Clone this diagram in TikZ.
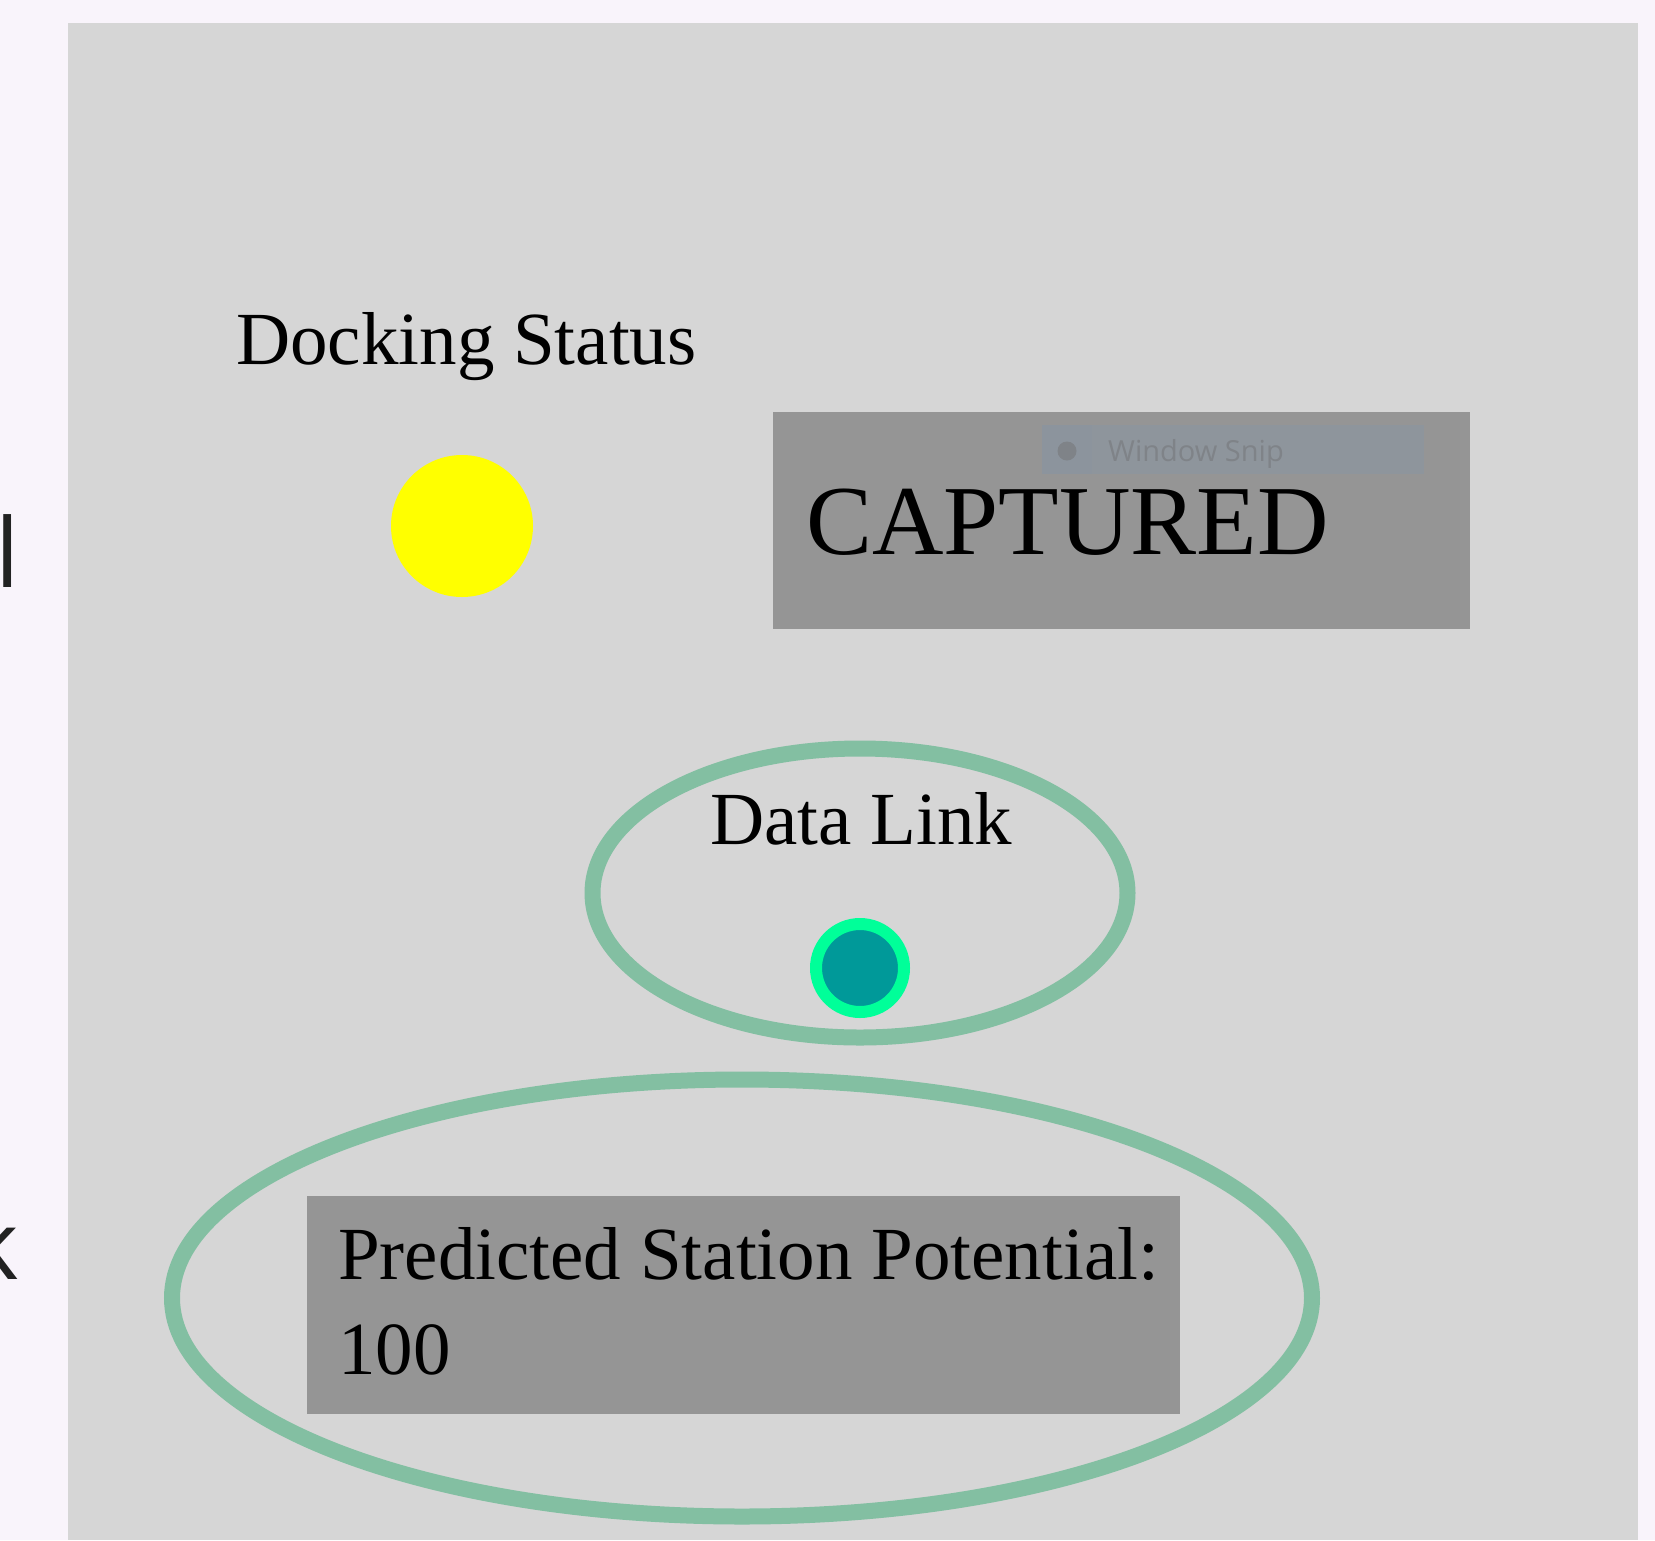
\documentclass[tikz,border=0pt]{standalone}
\usepackage{fontspec}
\setmainfont{Liberation Serif}
\newfontfamily\uisans{Open Sans}
\usetikzlibrary{shapes.geometric}
\definecolor{pagebg}{HTML}{F9F4FB}
\definecolor{panelbg}{HTML}{D6D6D6}
\definecolor{boxgrey}{HTML}{959595}
\definecolor{ringgreen}{HTML}{83BFA2}
\definecolor{dotteal}{HTML}{009999}
\definecolor{dotring}{HTML}{00FF99}
\definecolor{dockyellow}{HTML}{FFFF00}
\definecolor{snipbg}{HTML}{8E959C}
\definecolor{snipleft}{HTML}{8C949D}
\definecolor{sniptext}{HTML}{7F8388}
\definecolor{edgetext}{HTML}{222222}
\tikzset{
  bigtext/.style={font=\fontsize{75}{95}\selectfont, inner sep=0pt, text=black},
  greybox/.style={rectangle, fill=boxgrey, inner sep=0pt},
  ringellipse/.style={ellipse, draw=ringgreen, line width=16pt, inner sep=0pt},
}
\begin{document}
\begin{tikzpicture}[x=1pt,y=-1pt]
\useasboundingbox (0,0) rectangle (1655,1540);
\fill[pagebg] (0,0) rectangle (1655,1540);
\fill[panelbg] (68,23) rectangle (1638,1540);
% cut-off letters at left edge
\node[font=\uisans\fontsize{96}{110}\selectfont, text=edgetext, anchor=base east, inner sep=0pt] (edgel) at (20,587) {l};
\node[font=\uisans\fontsize{96}{110}\selectfont, text=edgetext, anchor=base east, inner sep=0pt] (edgek) at (19,1279) {k};
% docking status
\node[bigtext, anchor=base west] (docklabel) at (236,364) {Docking Status};
\node[circle, fill=dockyellow, minimum size=142pt, inner sep=0pt] (dockdot) at (462,526) {};
% captured box
\node[greybox, minimum width=697pt, minimum height=217pt] (capbox) at (1121.5,520.5) {};
\fill[snipbg] (1042,425) rectangle (1424,474);
\fill[snipleft] (1042,425) rectangle (1092,474);
\node[circle, fill=sniptext, minimum size=19pt, inner sep=0pt] (snipdot) at (1067,451) {};
\node[font=\uisans\fontsize{29}{34}\selectfont, text=sniptext, anchor=base west, inner sep=0pt] (sniplabel) at (1108,461) {Window Snip};
\node[font=\fontsize{99}{110}\selectfont, inner sep=0pt, anchor=base west] (captext) at (806,554) {CAPTURED};
% data link
\node[ringellipse, minimum width=535pt, minimum height=289pt] (linkring) at (860,893) {};
\node[bigtext, anchor=base west] (linklabel) at (710,844) {Data Link};
\node[circle, fill=dotteal, draw=dotring, line width=12pt, minimum size=88pt, inner sep=0pt] (linkdot) at (860,968) {};
% predicted potential
\node[ringellipse, minimum width=1140pt, minimum height=437pt] (potring) at (742,1298) {};
\node[greybox, minimum width=873pt, minimum height=218pt] (potbox) at (743.5,1305) {};
\node[bigtext, anchor=base west, align=left] (pottext) at (338,1374) {Predicted Station Potential:\\100};
\end{tikzpicture}
\end{document}
